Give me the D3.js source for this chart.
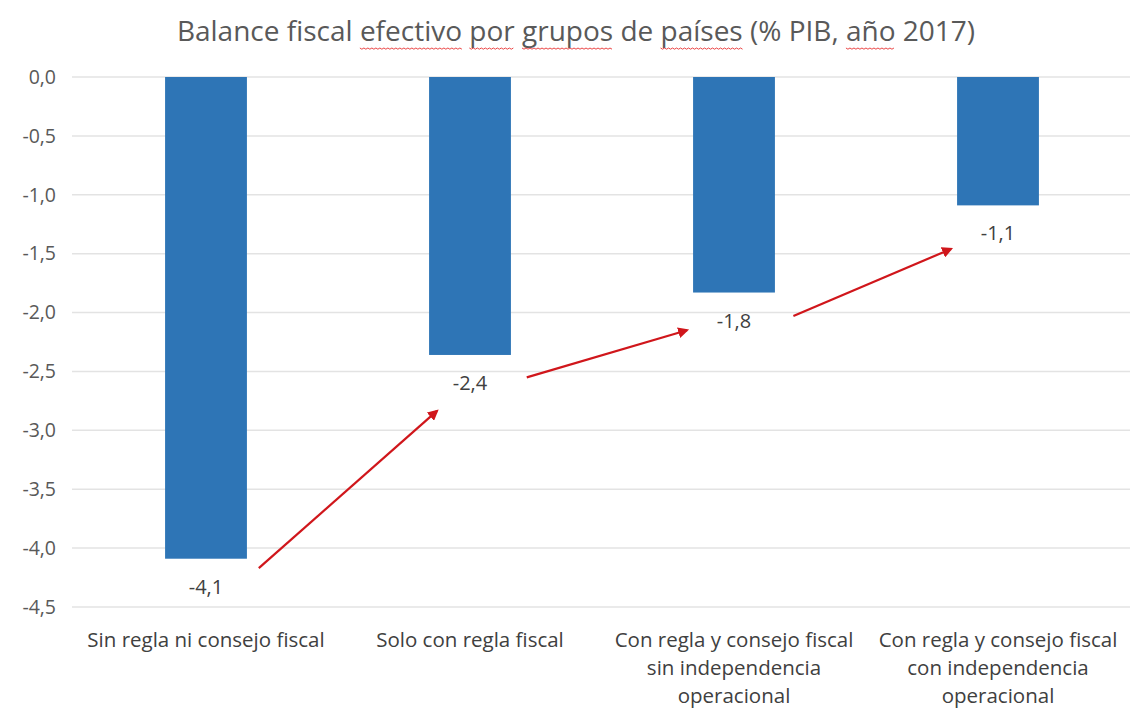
<!DOCTYPE html>
<html><head><meta charset="utf-8">
<script src="https://cdn.jsdelivr.net/npm/d3@7"></script>
<style>body{margin:0;background:#fff}svg{display:block}</style>
</head><body><svg id="c" width="1130" height="714"></svg>
<script>
const title = "Balance fiscal efectivo por grupos de países (% PIB, año 2017)";
const underlinedWords = ["efectivo", "por", "grupos", "países", "año"];
const categories = [
  "Sin regla ni consejo fiscal",
  "Solo con regla fiscal",
  "Con regla y consejo fiscal sin independencia operacional",
  "Con regla y consejo fiscal con independencia operacional"
];
const categoryLines = [
  ["Sin regla ni consejo fiscal"],
  ["Solo con regla fiscal"],
  ["Con regla y consejo fiscal", "sin independencia", "operacional"],
  ["Con regla y consejo fiscal", "con independencia", "operacional"]
];
const values = [-4.09, -2.36, -1.83, -1.09];
const yTicks = [0, -0.5, -1, -1.5, -2, -2.5, -3, -3.5, -4, -4.5];
// arrows: from category i to i+1 (offset in band fractions, values in axis units)
const arrowFrom = [{c:0, dx:0.2, v:-4.17}, {c:1, dx:0.215, v:-2.55}, {c:2, dx:0.225, v:-2.03}];
const arrowTo   = [{c:1, dx:-0.125, v:-2.835}, {c:2, dx:-0.178, v:-2.15}, {c:3, dx:-0.178, v:-1.46}];

(function(){
const svg = d3.select("#c");
const font = "'Open Sans', Lato, sans-serif";
const mLeft = 72, mRight = 1130, mTop = 77, mBottom = 607;
const x = d3.scaleBand().domain(categories).range([mLeft + 2, mRight]).paddingInner(0.69).paddingOuter(0.345);
const y = d3.scaleLinear().domain([0, -4.5]).range([mTop, mBottom]);
const fmt = v => (Math.round(v * 10) / 10).toFixed(1).replace(".", ",");

svg.append("g").selectAll("line").data(yTicks).join("line")
  .attr("x1", mLeft).attr("x2", mRight)
  .attr("y1", d => y(d)).attr("y2", d => y(d))
  .attr("stroke", "#e3e3e3").attr("stroke-width", 1.5);

const yAxis = d3.axisLeft(y).tickValues(yTicks).tickSize(0).tickPadding(0).tickFormat(fmt);
const ga = svg.append("g").attr("transform", `translate(${mLeft - 16},0)`).call(yAxis);
ga.select(".domain").remove();
ga.selectAll("text").attr("font-family", font).attr("font-size", 19.5).attr("fill", "#595959");

svg.append("g").selectAll("rect").data(values).join("rect")
  .attr("x", (d, i) => x(categories[i]))
  .attr("width", x.bandwidth())
  .attr("y", d => y(Math.max(0, d)))
  .attr("height", d => Math.abs(y(d) - y(0)))
  .attr("fill", "#2E75B6");

svg.append("g").selectAll("text").data(values).join("text")
  .attr("x", (d, i) => x(categories[i]) + x.bandwidth() / 2)
  .attr("y", d => y(d) + 35)
  .attr("text-anchor", "middle")
  .attr("font-family", font).attr("font-size", 20).attr("fill", "#404040")
  .text(fmt);

const xl = svg.append("g");
categoryLines.forEach((lines, i) => {
  const cx = x(categories[i]) + x.bandwidth() / 2;
  const t = xl.append("text").attr("text-anchor", "middle")
    .attr("font-family", font).attr("font-size", 20.5).attr("fill", "#404040");
  lines.forEach((ln, j) => t.append("tspan").attr("x", cx).attr("y", 647 + j * 28).text(ln));
});

const defs = svg.append("defs");
defs.append("marker").attr("id", "ah").attr("viewBox", "0 0 10 10")
  .attr("refX", 8).attr("refY", 5).attr("markerWidth", 5).attr("markerHeight", 5)
  .attr("orient", "auto").attr("markerUnits", "strokeWidth")
  .append("path").attr("d", "M0,0 L10,5 L0,10 z").attr("fill", "#D0161B");
const bx = (p) => x(categories[p.c]) + x.bandwidth() / 2 + p.dx * x.step();
svg.append("g").selectAll("line").data(arrowFrom).join("line")
  .attr("x1", d => bx(d)).attr("y1", d => y(d.v))
  .attr("x2", (d, i) => bx(arrowTo[i])).attr("y2", (d, i) => y(arrowTo[i].v))
  .attr("stroke", "#D0161B").attr("stroke-width", 2.2).attr("marker-end", "url(#ah)");

const tt = svg.append("text").attr("x", 576).attr("y", 41).attr("text-anchor", "middle")
  .attr("font-family", font).attr("font-size", 28).attr("fill", "#595959").text(title);
const node = tt.node();
const sq = svg.append("g");
underlinedWords.forEach(w => {
  const pos = title.indexOf(" " + w + " ");
  const idx = pos >= 0 ? pos + 1 : title.indexOf(w);
  const s = node.getStartPositionOfChar(idx);
  const e = node.getEndPositionOfChar(idx + w.length - 1);
  const pts = [];
  for (let px = s.x; px <= e.x; px += 2) pts.push([px, 48 + ((Math.round((px - s.x) / 2)) % 2 ? 1.2 : 0)]);
  sq.append("path").attr("d", d3.line()(pts)).attr("fill", "none").attr("stroke", "#e83030").attr("stroke-width", 0.9);
});
})();
</script></body></html>
